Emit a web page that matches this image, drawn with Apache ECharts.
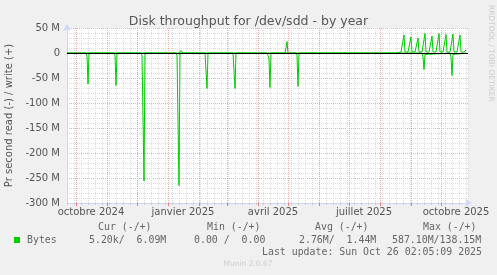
<!DOCTYPE html>
<html>
<head>
<meta charset="utf-8">
<script src="https://cdn.jsdelivr.net/npm/echarts@6/dist/echarts.min.js"></script>
<style>
html,body{margin:0;padding:0;background:#F0F0F0;}
#c{width:497px;height:275px;}
</style>
</head>
<body>
<div id="c"></div>
<script>
// Day index = days since 1 Sep 2024 (1 px per day on the plot)
const monthStarts = [30, 61, 91, 122, 153, 181, 212, 242, 273, 303, 334, 365, 395];
const tickDays = [45, 137, 227, 318, 410];
const tickLabels = ['octobre 2024', 'janvier 2025', 'avril 2025', 'juillet 2025', 'octobre 2025'];

// read (negative, M bytes/s): [day, value]
const readData = [
  [21,0],[40,0],[41,-6],[42,-62],[43,0],
  [68,0],[69,-5],[70,-65],[71,0],
  [95,0],[96,-5],[97,-9],[98,-256],[99,0],
  [130,0],[131,-5],[132,-8],[133,-265],[134,0],
  [159,0],[160,-4],[161,-71],[162,0],
  [187,0],[188,-4],[189,-71],[190,0],
  [221,0],[222,-5],[223,-12],[224,-69],[225,0],
  [250,0],[251,-5],[252,-67],[253,0],
  [278,0],[279,-2],[280,0],
  [313,0],[314,-2],[315,0],
  [341,0],[342,-2],[343,0],
  [376,0],[377,-8],[378,-33],[379,-3],[380,0],
  [404,0],[405,-8],[406,-45],[407,-3],[408,0],
  [420,0]
];

// write (positive, M bytes/s): [day, value]
const writeData = [
  [21,0],[32,0],[33,1.5],[34,0],[38,0],[39,1.5],[40,0],[53,0],[54,1.5],[55,0],
  [85,0],[86,2],[87,0],[99,0],[100,1.5],[101,0],[103,0],[104,1.5],[105,0],
  [108,0],[109,1.5],[110,1.5],[111,0],[124,0],[125,1.5],[126,0],[128,0],[129,1.5],[130,0],
  [133,0],[134,2],[135,5],[136,1],[137,0],[143,0],[144,1.5],[145,0],
  [156,0],[157,1.5],[158,0],[171,0],[172,1.5],[173,0],[185,0],[186,1.5],[187,0],
  [193,0],[194,1.5],[195,0],[200,0],[201,1.5],[202,0],[206,0],[207,1.5],[208,0],
  [213,0],[214,1.5],[215,0],[223,0],[224,1.5],[225,0],[228,0],[229,1.5],[230,0],
  [234,0],[235,1.5],[236,0],[239,0],[240,10],[241,23],[242,0],
  [350,0],[352,1.5],[355,2],[357,2],[358,36],[359,2],[362,2],[364,2],[365,32],[366,2],
  [369,2],[371,2],[372,30],[373,2],[376,2],[378,2],[379,39],[380,2],[383,2],[385,2],
  [386,34],[387,2],[390,2],[392,2],[393,39],[394,2],[397,2],[399,2],[400,37],[401,2],
  [404,2],[406,2],[407,38],[408,2],[411,2],[413,2],[414,36],[415,2],[418,2],[419,2],[420,6]
];

const chart = echarts.init(document.getElementById('c'), null, {renderer: 'canvas'});
const green = '#00CC00';
const txt = '#666666';
const sans = 'DejaVu Sans';
const majorGrid = 'rgba(230,110,110,0.55)';
const minorGrid = '#dddddd';
const monoFont = '9.9px "DejaVu Sans Mono"';

chart.setOption({
  backgroundColor: '#F0F0F0',
  animation: false,
  color: [green],
  title: {
    text: 'Disk throughput for /dev/sdd - by year',
    left: 'center', top: 10,
    textStyle: {fontFamily: sans, fontSize: 12.5, fontWeight: 'normal', color: '#555'}
  },
  grid: {left: 67, right: 29, top: 28, bottom: 72, show: true, backgroundColor: '#FFFFFF', borderWidth: 0,
         containLabel: false, outerBoundsMode: 'none'},
  xAxis: [{
    type: 'value', min: 21, max: 422, interval: 7,
    axisLine: {show: true, onZero: false, lineStyle: {color: '#CFD6F8'}, symbol: ['none', 'arrow'], symbolSize: [6, 7], symbolOffset: [0, 4]},
    axisTick: {show: true, length: 2, lineStyle: {color: '#cccccc'}},
    splitLine: {show: true, lineStyle: {color: minorGrid, type: [1, 1]}},
    axisLabel: {
      customValues: tickDays, margin: 4,
      fontFamily: sans, fontSize: 10, color: '#555',
      formatter: v => tickLabels[tickDays.indexOf(v)] || ''
    }
  }, {
    type: 'value', min: 21, max: 422, position: 'bottom',
    axisLine: {show: false, onZero: false},
    axisTick: {show: true, length: 3, customValues: monthStarts, lineStyle: {color: '#E08080'}},
    splitLine: {show: false},
    axisLabel: {show: false}
  }],
  yAxis: {
    type: 'value', min: -300, max: 50, interval: 50,
    axisLine: {show: true, onZero: false, lineStyle: {color: '#CFD6F8'}, symbol: ['none', 'arrow'], symbolSize: [6, 7], symbolOffset: [0, 4]},
    axisTick: {show: false},
    splitLine: {show: true, lineStyle: {color: majorGrid, type: [1, 1]}},
    minorTick: {show: false, splitNumber: 5},
    minorSplitLine: {show: true, lineStyle: {color: minorGrid, type: [1, 1]}},
    axisLabel: {
      margin: 7, fontFamily: sans, fontSize: 10, color: '#555',
      formatter: v => (v === 0 ? '0' : v + ' M')
    },
    name: 'Pr second read (-) / write (+)',
    nameLocation: 'middle', nameGap: 52, nameRotate: 90,
    nameTextStyle: {fontFamily: sans, fontSize: 10, color: '#555'}
  },
  series: [{
    name: 'months', type: 'line', data: [], z: 1, silent: true, color: majorGrid,
    markLine: {
      silent: true, symbol: 'none', label: {show: false},
      lineStyle: {color: majorGrid, type: [1, 1], width: 1},
      emphasis: {disabled: true},
      data: monthStarts.map(d => ({xAxis: d}))
    }
  }, {
    name: 'read', type: 'line', data: readData, z: 3, color: green,
    showSymbol: false, symbol: 'none',
    lineStyle: {color: green, width: 1}
  }, {
    name: 'write', type: 'line', data: writeData, z: 3, color: green,
    showSymbol: false, symbol: 'none',
    lineStyle: {color: green, width: 1}
  }, {
    name: 'zero', type: 'line', data: [], z: 5, silent: true, color: '#000',
    markLine: {
      silent: true, symbol: 'none', label: {show: false},
      lineStyle: {color: '#000000', type: 'solid', width: 1.2},
      emphasis: {disabled: true},
      data: [{yAxis: 0}]
    }
  }],
  graphic: [
    {type: 'text', x: 491, y: 5, rotation: -Math.PI / 2,
      style: {text: 'RRDTOOL / TOBI OETIKER', font: '7.5px "DejaVu Sans"', fill: '#CCCCCC', textAlign: 'left', textVerticalAlign: 'middle'}},
    {type: 'text', x: 98, y: 227, style: {text: 'Cur (-/+)', font: monoFont, fill: txt, textVerticalAlign: 'middle'}},
    {type: 'text', x: 207, y: 227, style: {text: 'Min (-/+)', font: monoFont, fill: txt, textVerticalAlign: 'middle'}},
    {type: 'text', x: 315, y: 227, style: {text: 'Avg (-/+)', font: monoFont, fill: txt, textVerticalAlign: 'middle'}},
    {type: 'text', x: 423, y: 227, style: {text: 'Max (-/+)', font: monoFont, fill: txt, textVerticalAlign: 'middle'}},
    {type: 'rect', shape: {x: 14, y: 237, width: 6, height: 6}, style: {fill: green}},
    {type: 'text', x: 27, y: 240, style: {text: 'Bytes', font: monoFont, fill: txt, textVerticalAlign: 'middle'}},
    {type: 'text', x: 89, y: 240, style: {text: '5.20k/  6.09M', font: monoFont, fill: txt, textVerticalAlign: 'middle'}},
    {type: 'text', x: 194, y: 240, style: {text: '0.00 /  0.00', font: monoFont, fill: txt, textVerticalAlign: 'middle'}},
    {type: 'text', x: 299, y: 240, style: {text: '2.76M/  1.44M', font: monoFont, fill: txt, textVerticalAlign: 'middle'}},
    {type: 'text', x: 392, y: 240, style: {text: '587.10M/138.15M', font: monoFont, fill: txt, textVerticalAlign: 'middle'}},
    {type: 'text', x: 262, y: 252, style: {text: 'Last update: Sun Oct 26 02:05:09 2025', font: monoFont, fill: txt, textVerticalAlign: 'middle'}},
    {type: 'text', x: 248, y: 264, style: {text: 'Munin 2.0.67', font: '7.5px "DejaVu Sans"', fill: '#CCCCCC', textAlign: 'center', textVerticalAlign: 'middle'}}
  ]
});
</script>
</body>
</html>
